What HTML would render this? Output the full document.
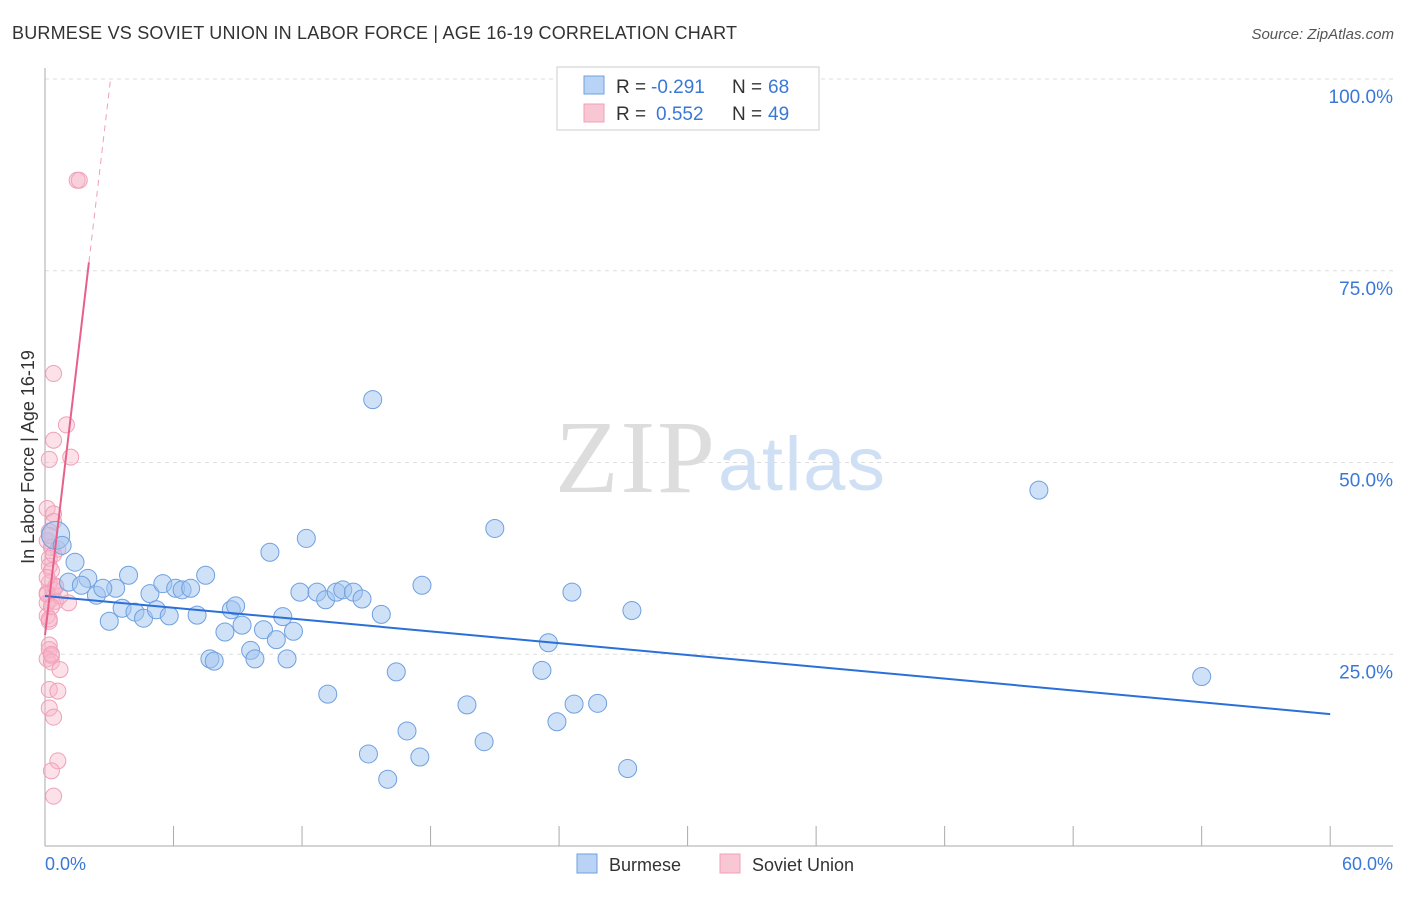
<!DOCTYPE html>
<html><head><meta charset="utf-8"><style>
body{margin:0;background:#fff;font-family:"Liberation Sans",sans-serif}
svg text{font-family:"Liberation Sans",sans-serif}
</style></head><body>
<svg width="1406" height="892" viewBox="0 0 1406 892">
<text x="12" y="39" font-size="18" fill="#333" textLength="725">BURMESE VS SOVIET UNION IN LABOR FORCE | AGE 16-19 CORRELATION CHART</text>
<text x="1394" y="39" font-size="15" fill="#555" text-anchor="end" font-style="italic">Source: ZipAtlas.com</text>
<g id="grid"></g>
<text x="555" y="492" font-size="104" fill="#ddd" style="font-family:'Liberation Serif',serif" textLength="160">ZIP</text>
<text x="718" y="490" font-size="76" fill="#cfe0f5" textLength="167">atlas</text>
<line x1="45" y1="68" x2="45" y2="846" stroke="#aaa"/>
<line x1="45" y1="846" x2="1393" y2="846" stroke="#aaa"/>
<g id="xticks"></g>
<text x="45" y="870" font-size="18" fill="#3a78d8">0.0%</text>
<text x="1393" y="870" font-size="18" fill="#3a78d8" text-anchor="end">60.0%</text>
<text transform="translate(34,457) rotate(-90)" font-size="18" fill="#333" text-anchor="middle">In Labor Force | Age 16-19</text>
<g id="pts"></g>
<g id="lines"></g>
<g>
<rect x="557" y="67" width="262" height="63" fill="#fff" stroke="#ccc"/>
<rect x="584" y="76" width="20" height="18" fill="#b8d3f5" stroke="#6fa0e0"/>
<rect x="584" y="104" width="20" height="18" fill="#f9c6d4" stroke="#f0a0b8"/>
<text x="616" y="93" font-size="19" fill="#333">R =</text>
<text x="651" y="93" font-size="19" fill="#3a78d8">-0.291</text>
<text x="732" y="93" font-size="19" fill="#333">N =</text>
<text x="768" y="93" font-size="19" fill="#3a78d8">68</text>
<text x="616" y="120" font-size="19" fill="#333">R =</text>
<text x="656" y="120" font-size="19" fill="#3a78d8">0.552</text>
<text x="732" y="120" font-size="19" fill="#333">N =</text>
<text x="768" y="120" font-size="19" fill="#3a78d8">49</text>
</g>
<g>
<rect x="577" y="854" width="20" height="19" fill="#b8d3f5" stroke="#6fa0e0"/>
<text x="609" y="871" font-size="18" fill="#333">Burmese</text>
<rect x="720" y="854" width="20" height="19" fill="#f9c6d4" stroke="#f0a0b8"/>
<text x="752" y="871" font-size="18" fill="#333">Soviet Union</text>
</g>
</svg>
<script>
const yTicks=[25,50,75,100];
const yTickLabels=["25.0%","50.0%","75.0%","100.0%"];
const burmeseX=[0.5,0.8,1.4,1.1,2.0,1.7,2.4,3.0,3.3,2.7,3.9,3.6,4.2,4.6,4.9,5.2,5.5,5.8,6.1,6.4,6.8,7.1,7.5,8.4,7.7,7.9,8.7,8.9,9.2,9.6,9.8,10.2,10.5,10.8,11.1,11.3,11.6,11.9,12.2,12.7,13.1,13.2,13.6,13.9,14.4,14.8,15.1,15.3,15.7,16.0,16.4,16.9,17.5,17.6,19.7,20.5,21.0,23.2,23.5,23.9,24.6,24.7,25.8,27.2,27.4,46.4,54.0];
const burmeseY=[40.5,39.2,37.0,34.4,34.9,34.0,32.7,29.3,33.6,33.6,35.3,31.0,30.5,29.7,32.9,30.8,34.2,30.0,33.6,33.4,33.6,30.1,35.3,27.9,24.4,24.1,30.8,31.3,28.8,25.5,24.4,28.2,38.3,26.9,29.9,24.4,28.0,33.1,40.1,33.1,32.1,19.8,33.1,33.4,33.1,32.2,12.0,58.2,30.2,8.7,22.7,15.0,11.6,34.0,18.4,13.6,41.4,22.9,26.5,16.2,33.1,18.5,18.6,10.1,30.7,46.4,22.1];
const sovietX=[1.5,1.6,0.4,1.0,0.4,1.2,0.2,0.1,0.4,0.4,0.2,0.1,0.3,0.6,0.2,0.2,0.3,0.5,0.1,0.3,0.5,0.1,1.1,0.4,0.1,0.2,0.2,0.2,0.3,0.1,0.3,0.7,0.2,0.6,0.2,0.4,0.6,0.3,0.4,0.7,0.2,0.1,0.3,0.5,0.2,0.3,0.1,0.2,0.4];
const sovietY=[86.8,86.8,61.6,54.9,52.9,50.7,50.4,44.0,43.3,42.3,41.0,39.8,38.9,38.7,37.5,36.5,35.9,33.9,33.0,32.2,31.9,31.7,31.7,33.4,30.0,29.3,26.2,25.6,24.8,24.4,24.0,23.0,20.4,20.2,18.0,16.8,11.1,9.8,6.5,32.6,34.3,32.8,31.2,33.8,29.6,25.0,35.0,40.5,38.0];
const burmeseLine=[[0,32.6],[60,17.2]];
const sovietLine=[[0,27.5],[2.05,76.1]];
const sovietDash=[[2.05,76.1],[3.06,100]];
const X=v=>45+v*21.42, Y=v=>846-v*7.67;
const NS="http://www.w3.org/2000/svg";
function mk(t,a,p){const e=document.createElementNS(NS,t);for(const k in a)e.setAttribute(k,a[k]);p.appendChild(e);return e;}
const grid=document.getElementById('grid');
yTicks.forEach((t,i)=>{
 const l=mk('line',{x1:45,x2:1393,y1:Y(t),y2:Y(t),stroke:'#ddd','stroke-dasharray':'4,4'},grid);
 
 
 const tx=mk('text',{x:1393,y:Y(t)+24,'font-size':19,fill:'#3a78d8','text-anchor':'end'},grid);
 tx.textContent=yTickLabels[i];
 
 
});
const xt=document.getElementById('xticks');
for(let i=0;i<=10;i++){const l=mk('line',{x1:X(i*6),x2:X(i*6),y1:826,y2:846,stroke:'#aaa'},xt);
 
 }
const pts=document.getElementById('pts');
sovietX.forEach((v,i)=>{const c=mk('circle',{cx:X(v),cy:Y(sovietY[i]),r:8,fill:'rgba(248,180,200,0.4)',stroke:'#f0a0b8','stroke-width':1},pts);
 
 });
burmeseX.forEach((v,i)=>{const c=mk('circle',{cx:X(v),cy:Y(burmeseY[i]),r:i==0?14:9,fill:'rgba(160,196,240,0.5)',stroke:'#6fa0e0','stroke-width':1},pts);
 
 });
const lg=document.getElementById('lines');
const b=mk('line',{x1:X(burmeseLine[0][0]),y1:Y(burmeseLine[0][1]),x2:X(burmeseLine[1][0]),y2:Y(burmeseLine[1][1]),stroke:'#2a70d8','stroke-width':2},lg);


const s=mk('line',{x1:X(sovietLine[0][0]),y1:Y(sovietLine[0][1]),x2:X(sovietLine[1][0]),y2:Y(sovietLine[1][1]),stroke:'#e8608a','stroke-width':2},lg);


const d=mk('line',{x1:X(sovietDash[0][0]),y1:Y(sovietDash[0][1]),x2:X(sovietDash[1][0]),y2:Y(sovietDash[1][1]),stroke:'#f0a0b8','stroke-width':1,'stroke-dasharray':'6,5'},lg);


</script>
</body></html>
